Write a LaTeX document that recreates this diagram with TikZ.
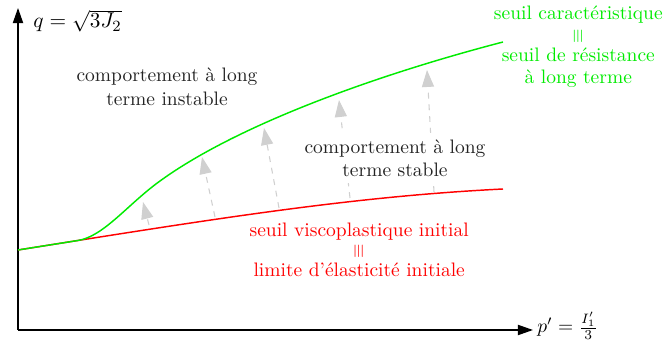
\documentclass[tikz,border=0pt]{standalone}
\usepackage{fontspec}
\usepackage{graphicx}
\usetikzlibrary{arrows.meta}
\definecolor{mygreen}{RGB}{0,235,0}
\definecolor{myred}{RGB}{255,0,0}
\definecolor{arrgray}{RGB}{208,208,208}
\definecolor{txtgray}{RGB}{35,35,35}
\tikzset{
  axis/.style={line width=0.7pt,-{Triangle[length=7.7pt,width=5.2pt]}},
  growth/.style={arrgray,line width=0.55pt,dashed,-{Triangle[length=8.7pt,width=6.2pt]}},
  curve/.style={line width=0.75pt},
  zonetext/.style={align=center,text=txtgray},
  green label/.style={align=center,text=mygreen,font={\fontsize{10}{10.9}\selectfont}},
  red label/.style={align=center,text=myred,font={\fontsize{10}{10.3}\selectfont}},
}
\newcommand{\vequiv}{\raisebox{-1.2pt}{\scalebox{0.95}{\rotatebox{90}{$\equiv$}}}}
\begin{document}
\begin{tikzpicture}[x=0.513pt,y=-0.513pt]
\useasboundingbox (0,0) rectangle (664,345);
% axes
\coordinate (O) at (18,330);
\coordinate (Ytop) at (18,8);
\coordinate (Xend) at (533,330);
\draw[axis] (O) -- (Ytop);
\draw[axis] (O) -- (Xend);
\node[anchor=base west,inner sep=0pt,font={\fontsize{11}{13}\selectfont}] (qlab) at (33,28) {$q=\sqrt{3J_2}$};
\node[anchor=base west,inner sep=0pt] (plab) at (537,333) {$p'=\frac{I'_1}{3}$};
% curves
\draw[myred,curve] (18,250) .. controls (218,218.2) and (353,196.5) .. (503,189);
\draw[mygreen,curve] (18,250) -- (78,240.5) .. controls (104,236.3) and (128,204) .. (160,181)
   .. controls (240,123) and (383,73.2) .. (503,42);
% growth arrows
\coordinate (a1s) at (149,225); \coordinate (a1e) at (143,202);
\coordinate (a2s) at (215,217); \coordinate (a2e) at (202,157);
\coordinate (a3s) at (279,208); \coordinate (a3e) at (264,128);
\coordinate (a4s) at (350,198); \coordinate (a4e) at (339,100);
\coordinate (a5s) at (434,192); \coordinate (a5e) at (427,70);
\draw[growth] (a1s) -- (a1e);
\draw[growth] (a2s) -- (a2e);
\draw[growth] (a3s) -- (a3e);
\draw[growth] (a4s) -- (a4e);
\draw[growth] (a5s) -- (a5e);
% texts
\node[zonetext] (unstable) at (167,86.5) {comportement à long\\[0.5pt]terme instable};
\node[zonetext,fill=white] (stable) at (395,158.3) {comportement à long\\terme stable};
\node[green label] (glab) at (578.3,46.5) {seuil caractéristique\\\vequiv\\seuil de résistance\\à long terme};
\node[red label] (rlab) at (359.2,250) {seuil viscoplastique initial\\\vequiv\\limite d’élasticité initiale};
\end{tikzpicture}
\end{document}
